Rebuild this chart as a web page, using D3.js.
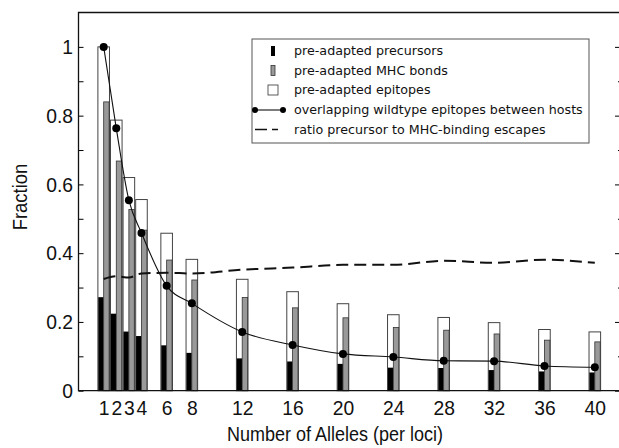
<!DOCTYPE html>
<html lang="en">
<head>
<meta charset="utf-8">
<title>Alleles chart</title>
<script src="https://cdn.jsdelivr.net/npm/d3@7"></script>
<style>
  body { margin: 0; background: #fff; }
  text { font-family: "Liberation Sans", Arial, sans-serif; }
  .legend text { font-family: "DejaVu Sans", sans-serif; font-size: 12.7px; }
</style>
</head>
<body>
<script>
// data
var alleles     = [1, 2, 3, 4, 6, 8, 12, 16, 20, 24, 28, 32, 36, 40];
var precursors  = [0.272, 0.224, 0.172, 0.159, 0.132, 0.110, 0.094, 0.085, 0.078, 0.067, 0.066, 0.060, 0.056, 0.053];
var mhcBonds    = [0.840, 0.668, 0.527, 0.467, 0.380, 0.322, 0.271, 0.241, 0.212, 0.184, 0.176, 0.165, 0.147, 0.142];
var epitopes    = [1.000, 0.787, 0.620, 0.556, 0.458, 0.382, 0.324, 0.288, 0.253, 0.221, 0.213, 0.198, 0.178, 0.171];
var overlapping = [1.000, 0.763, 0.554, 0.459, 0.305, 0.254, 0.171, 0.133, 0.107, 0.098, 0.087, 0.086, 0.072, 0.068];
var ratio       = [0.325, 0.333, 0.329, 0.341, 0.343, 0.341, 0.352, 0.358, 0.366, 0.366, 0.378, 0.372, 0.381, 0.372];
var yTicks      = [0, 0.2, 0.4, 0.6, 0.8, 1];
var legendLabels = ["pre-adapted precursors", "pre-adapted MHC bonds", "pre-adapted epitopes",
                    "overlapping wildtype epitopes between hosts", "ratio precursor to MHC-binding escapes"];

var w = 619, h = 448;
var padL = 78.5, padR = 620, padT = 12.5, padB = 390.7; // plot box edges
var squeeze = "scale(0.92,1)"; // the original lettering is a bit narrow

var data = alleles.map(function(a, i) {
  return { x: a, pre: precursors[i], mhc: mhcBonds[i], epi: epitopes[i], ov: overlapping[i], r: ratio[i] };
});

var svg = d3.select("body").append("svg")
  .attr("width", w)
  .attr("height", h);

var xScale = d3.scaleLinear().domain([-1, 42]).range([padL, padR]);
var yScale = d3.scaleLinear().domain([0, 1.1]).range([padB, padT]);

var half = 0.46; // half bar width in allele units

// white epitope bars (outlined)
svg.append("g").selectAll("rect")
  .data(data).enter().append("rect")
  .attr("x", function(d) { return xScale(d.x - half); })
  .attr("y", function(d) { return yScale(d.epi); })
  .attr("width", function(d) { return xScale(d.x + half) - xScale(d.x - half); })
  .attr("height", function(d) { return padB - yScale(d.epi); })
  .attr("fill", "#fff")
  .attr("stroke", "#444")
  .attr("stroke-width", 1);

// black precursor bars (left half)
svg.append("g").selectAll("rect")
  .data(data).enter().append("rect")
  .attr("x", function(d) { return xScale(d.x - half + 0.03); })
  .attr("y", function(d) { return yScale(d.pre); })
  .attr("width", function(d) { return xScale(d.x) - xScale(d.x - half + 0.03); })
  .attr("height", function(d) { return padB - yScale(d.pre); })
  .attr("fill", "#000");

// gray MHC bars (right half)
svg.append("g").selectAll("rect")
  .data(data).enter().append("rect")
  .attr("x", function(d) { return xScale(d.x); })
  .attr("y", function(d) { return yScale(d.mhc); })
  .attr("width", function(d) { return xScale(d.x + half - 0.03) - xScale(d.x); })
  .attr("height", function(d) { return padB - yScale(d.mhc); })
  .attr("fill", "#999")
  .attr("stroke", "#333")
  .attr("stroke-width", 0.8);

// dashed ratio line
var ratioLine = d3.line()
  .x(function(d) { return xScale(d.x); })
  .y(function(d) { return yScale(d.r); })
  .curve(d3.curveMonotoneX);

svg.append("path")
  .datum(data)
  .attr("d", ratioLine)
  .attr("fill", "none")
  .attr("stroke", "#111")
  .attr("stroke-width", 2)
  .attr("stroke-dasharray", "12,6");

// overlapping line + dots
var ovLine = d3.line()
  .x(function(d) { return xScale(d.x); })
  .y(function(d) { return yScale(d.ov); })
  .curve(d3.curveMonotoneX);

svg.append("path")
  .datum(data)
  .attr("d", ovLine)
  .attr("fill", "none")
  .attr("stroke", "#111")
  .attr("stroke-width", 1.1);

svg.append("g").selectAll("circle")
  .data(data).enter().append("circle")
  .attr("cx", function(d) { return xScale(d.x); })
  .attr("cy", function(d) { return yScale(d.ov); })
  .attr("r", 4)
  .attr("fill", "#000");

// axes
var yAxis = d3.axisLeft(yScale)
  .tickValues(d3.range(0, 1.05, 0.1))
  .tickSize(-5)
  .tickPadding(6)
  .tickFormat(function(d) {
    var v = Math.round(d * 10) / 10;
    return yTicks.some(function(t) { return Math.abs(t - v) < 1e-6; }) ? d3.format("")(v) : "";
  });

var yG = svg.append("g")
  .attr("transform", "translate(" + padL + ",0)")
  .call(yAxis);
yG.select(".domain").remove();
yG.selectAll("text").attr("font-size", 21).attr("fill", "#111").attr("transform", squeeze);

var yAxisR = d3.axisRight(yScale)
  .tickValues(d3.range(0, 1.05, 0.1))
  .tickSize(-5)
  .tickFormat("");
var yR = svg.append("g")
  .attr("transform", "translate(" + padR + ",0)")
  .call(yAxisR);
yR.select(".domain").remove();
yR.selectAll(".tick line").attr("x2", function(d) {
  return Math.round(d * 10) % 2 === 0 ? -5 : -2;
});

var xAxis = d3.axisBottom(xScale)
  .tickValues(alleles)
  .tickSize(0)
  .tickPadding(9)
  .tickFormat(d3.format("d"));
var xG = svg.append("g")
  .attr("transform", "translate(0," + padB + ")")
  .call(xAxis);
xG.select(".domain").remove();
xG.selectAll("text").attr("font-size", 21).attr("fill", "#111").attr("transform", squeeze);

// frame
svg.append("path")
  .attr("d", "M" + padL + "," + padB + "V" + padT + "H" + padR + "V" + padB + "Z")
  .attr("fill", "none")
  .attr("stroke", "#111")
  .attr("stroke-width", 1.3);

// axis titles
svg.append("text")
  .attr("transform", "translate(335,441) scale(0.9,1)")
  .attr("text-anchor", "middle")
  .attr("font-size", 20)
  .attr("fill", "#111")
  .text("Number of Alleles (per loci)");

svg.append("text")
  .attr("transform", "translate(27,197) rotate(-90) scale(0.88,1)")
  .attr("text-anchor", "middle")
  .attr("font-size", 21)
  .attr("fill", "#111")
  .text("Fraction");

// legend
var lg = svg.append("g").attr("class", "legend");
lg.append("rect")
  .attr("x", 252).attr("y", 39)
  .attr("width", 337).attr("height", 104)
  .attr("fill", "#fff")
  .attr("stroke", "#555")
  .attr("stroke-width", 1);

var rowY = [51, 70.5, 90, 110, 129.5];
lg.selectAll("text.lbl")
  .data(legendLabels).enter().append("text")
  .attr("class", "lbl")
  .attr("x", 294)
  .attr("y", function(d, i) { return rowY[i]; })
  .attr("dy", "0.35em")
  .attr("fill", "#111")
  .text(function(d) { return d; });

lg.append("rect").attr("x", 271).attr("y", rowY[0] - 5).attr("width", 4).attr("height", 10).attr("fill", "#000");
lg.append("rect").attr("x", 271).attr("y", rowY[1] - 5).attr("width", 4).attr("height", 10)
  .attr("fill", "#999").attr("stroke", "#333").attr("stroke-width", 0.8);
lg.append("rect").attr("x", 268).attr("y", rowY[2] - 5).attr("width", 10).attr("height", 10)
  .attr("fill", "#fff").attr("stroke", "#333").attr("stroke-width", 0.8);
lg.append("line").attr("x1", 255).attr("x2", 283).attr("y1", rowY[3]).attr("y2", rowY[3])
  .attr("stroke", "#111").attr("stroke-width", 1.1);
lg.selectAll("circle").data([255, 283]).enter().append("circle")
  .attr("cx", function(d) { return d; }).attr("cy", rowY[3]).attr("r", 3).attr("fill", "#000");
lg.append("line").attr("x1", 255).attr("x2", 278).attr("y1", rowY[4]).attr("y2", rowY[4])
  .attr("stroke", "#111").attr("stroke-width", 1.3).attr("stroke-dasharray", "12,5");
</script>
</body>
</html>
